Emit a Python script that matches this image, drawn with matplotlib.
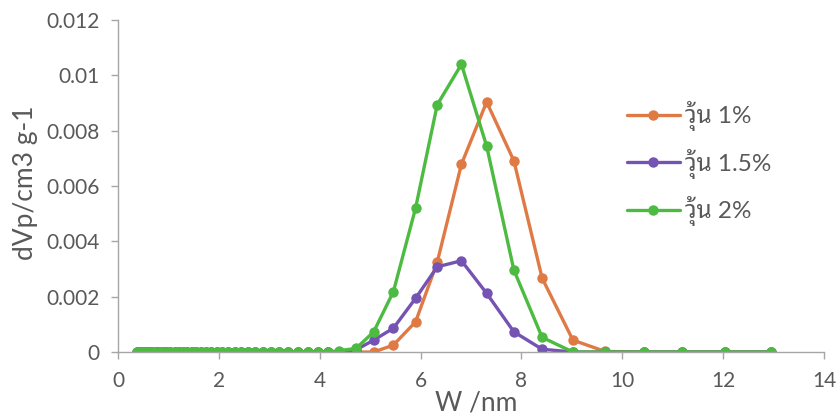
import matplotlib
matplotlib.use("Agg")
import matplotlib.pyplot as plt
from matplotlib import font_manager

# ---------------- data ----------------
pore_width = [0.38, 0.44, 0.50, 0.56, 0.62, 0.68, 0.75, 0.82, 0.89, 0.96,
              1.04, 1.12, 1.20, 1.28, 1.37, 1.46, 1.55, 1.65, 1.75, 1.85,
              1.96, 2.07, 2.19, 2.31, 2.44, 2.58, 2.72, 2.87, 3.03, 3.20,
              3.38, 3.57, 3.77, 3.97, 4.17, 4.39, 4.72, 5.07, 5.46, 5.90,
              6.33, 6.81, 7.31, 7.85, 8.41, 9.02, 9.66, 10.42, 11.18, 12.04,
              12.94]
n_flat = 35  # points before 4.39 that sit on zero
agar_1 = [0.0] * n_flat + [0.0, 0.0, 0.0, 0.00025, 0.00109, 0.00325, 0.00679,
                            0.00904, 0.00691, 0.00267, 0.00043, 0.00002,
                            0.0, 0.0, 0.0, 0.0]
agar_15 = [0.0] * n_flat + [0.0, 0.00008, 0.00043, 0.00086, 0.00194, 0.00308,
                             0.0033, 0.00212, 0.00073, 0.0001, 0.0, 0.0,
                             0.0, 0.0, 0.0, 0.0]
agar_2 = [0.0] * n_flat + [0.00005, 0.00013, 0.00073, 0.00218, 0.0052,
                            0.00894, 0.0104, 0.00744, 0.00296, 0.00053,
                            0.0, 0.0, 0.0, 0.0, 0.0, 0.0]
series_labels = ["วุ้น 1%", "วุ้น 1.5%", "วุ้น 2%"]
series_colors = ["#E07A45", "#7453B2", "#4DBB42"]
x_ticks = [0, 2, 4, 6, 8, 10, 12, 14]
y_ticks = [0, 0.002, 0.004, 0.006, 0.008, 0.01, 0.012]
y_tick_labels = ["0", "0.002", "0.004", "0.006", "0.008", "0.01", "0.012"]

# ---------------- fonts ----------------
installed = {f.name for f in font_manager.fontManager.ttflist}
latin = [f for f in ["Lato", "Open Sans", "DejaVu Sans"] if f in installed]
thai = [f for f in ["Noto Sans Thai Looped", "Noto Sans Thai", "Sarabun",
                    "Tahoma", "Loma", "Garuda"] if f in installed]
families = latin[:1] + thai[:1] + ["DejaVu Sans"]
plt.rcParams["font.family"] = families

text_gray = "#595959"
axis_gray = "#A6A6A6"

fig = plt.figure(figsize=(8.4, 4.16), dpi=100)
ax = fig.add_axes([0.1405, 0.1538, 0.8405, 0.798])

for yv, lab, col in zip([agar_1, agar_15, agar_2], series_labels, series_colors):
    ax.plot(pore_width, yv, color=col, lw=2.4, marker="o", markersize=7.5,
            markeredgewidth=0, label=lab, solid_capstyle="round")

ax.set_xlim(0, 14)
ax.set_ylim(0, 0.012)
ax.set_xticks(x_ticks)
ax.set_xticklabels([str(v) for v in x_ticks])
ax.set_yticks(y_ticks)
ax.set_yticklabels(y_tick_labels)

for side in ["top", "right"]:
    ax.spines[side].set_visible(False)
for side in ["left", "bottom"]:
    ax.spines[side].set_color(axis_gray)
    ax.spines[side].set_linewidth(1.0)
ax.tick_params(axis="both", direction="out", length=5, width=1.0,
               color=axis_gray, labelcolor=text_gray, labelsize=15)
ax.tick_params(axis="y", pad=8)
ax.tick_params(axis="x", pad=9)

fig.text(0.030, 0.56, "dVp/cm3 g-1", rotation=90, ha="center", va="center",
         fontsize=19, color=text_gray)
fig.text(0.567, 0.031, "W /nm", ha="center", va="center",
         fontsize=19, color=text_gray)

leg = ax.legend(loc="center left", bbox_to_anchor=(0.746, 0.606),
                bbox_transform=fig.transFigure, frameon=False,
                borderpad=0, borderaxespad=0, handlelength=2.2,
                handletextpad=0.2, labelspacing=0.72, fontsize=17.5)
for t in leg.get_texts():
    t.set_color(text_gray)

fig.savefig("out.png", dpi=100)
